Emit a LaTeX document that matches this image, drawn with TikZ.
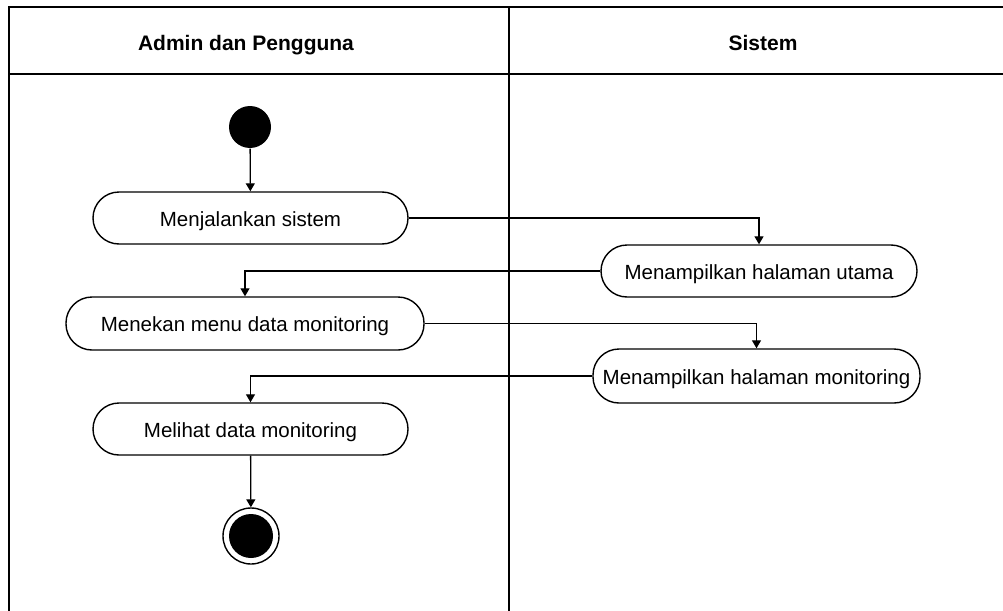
\documentclass[tikz,border=0pt]{standalone}
\usepackage{fontspec}
\setmainfont{Liberation Sans}
\usetikzlibrary{arrows.meta}
\begin{document}
\begin{tikzpicture}[x=1pt,y=-1pt,
  line width=1.4pt,
  act/.style={draw, rounded corners=26pt, minimum height=52pt, inner sep=0pt,
    font=\fontsize{20.5}{24}\selectfont, text height=16pt, text depth=0pt, fill=white},
  flow/.style={-{Triangle[length=8pt,width=9pt]}, line width=1.3pt},
  lanehead/.style={font=\bfseries\fontsize{21}{25}\selectfont, anchor=base, inner sep=0pt}
]
\useasboundingbox (0,0) rectangle (1003,610);

% swimlane frame
\begin{scope}
  \clip (0,0) rectangle (1003,610);
  \draw[line width=1.5pt] (9,7) rectangle (1017,620);
  \draw (9,74) -- (1017,74);
  \draw (509,7) -- (509,620);
\end{scope}

% lane titles
\node[lanehead] (hadmin) at (246,51) {Admin dan Pengguna};
\node[lanehead] (hsys) at (763,51) {Sistem};

% activities
\node[circle, fill=black, minimum size=42pt, inner sep=0pt] (start) at (250,127) {};
\node[act, minimum width=315pt] (a1) at (250.5,218) {Menjalankan sistem};
\node[act, minimum width=316pt] (s1) at (759,271) {Menampilkan halaman utama};
\node[act, minimum width=358pt, minimum height=53pt] (a2) at (245,323.5) {Menekan menu data monitoring};
\node[act, minimum width=327pt, minimum height=54pt] (s2) at (756.5,376) {Menampilkan halaman monitoring};
\node[act, minimum width=315pt] (a3) at (250.5,429) {Melihat data monitoring};
\node[circle, draw, minimum size=56pt, inner sep=0pt,
  path picture={\fill[black] (path picture bounding box.center) circle (22pt);}] (end) at (251,536) {};

% control flow
\draw[flow] (start) -- (a1);
\draw[flow] (a1.east) -| (s1.north);
\draw[flow] (s1.west) -| (a2.north);
\draw[flow] (a2.east) -| (s2.north);
\draw[flow] (s2.west) -| (a3.north);
\draw[flow] (a3) -- (end);
\end{tikzpicture}
\end{document}
